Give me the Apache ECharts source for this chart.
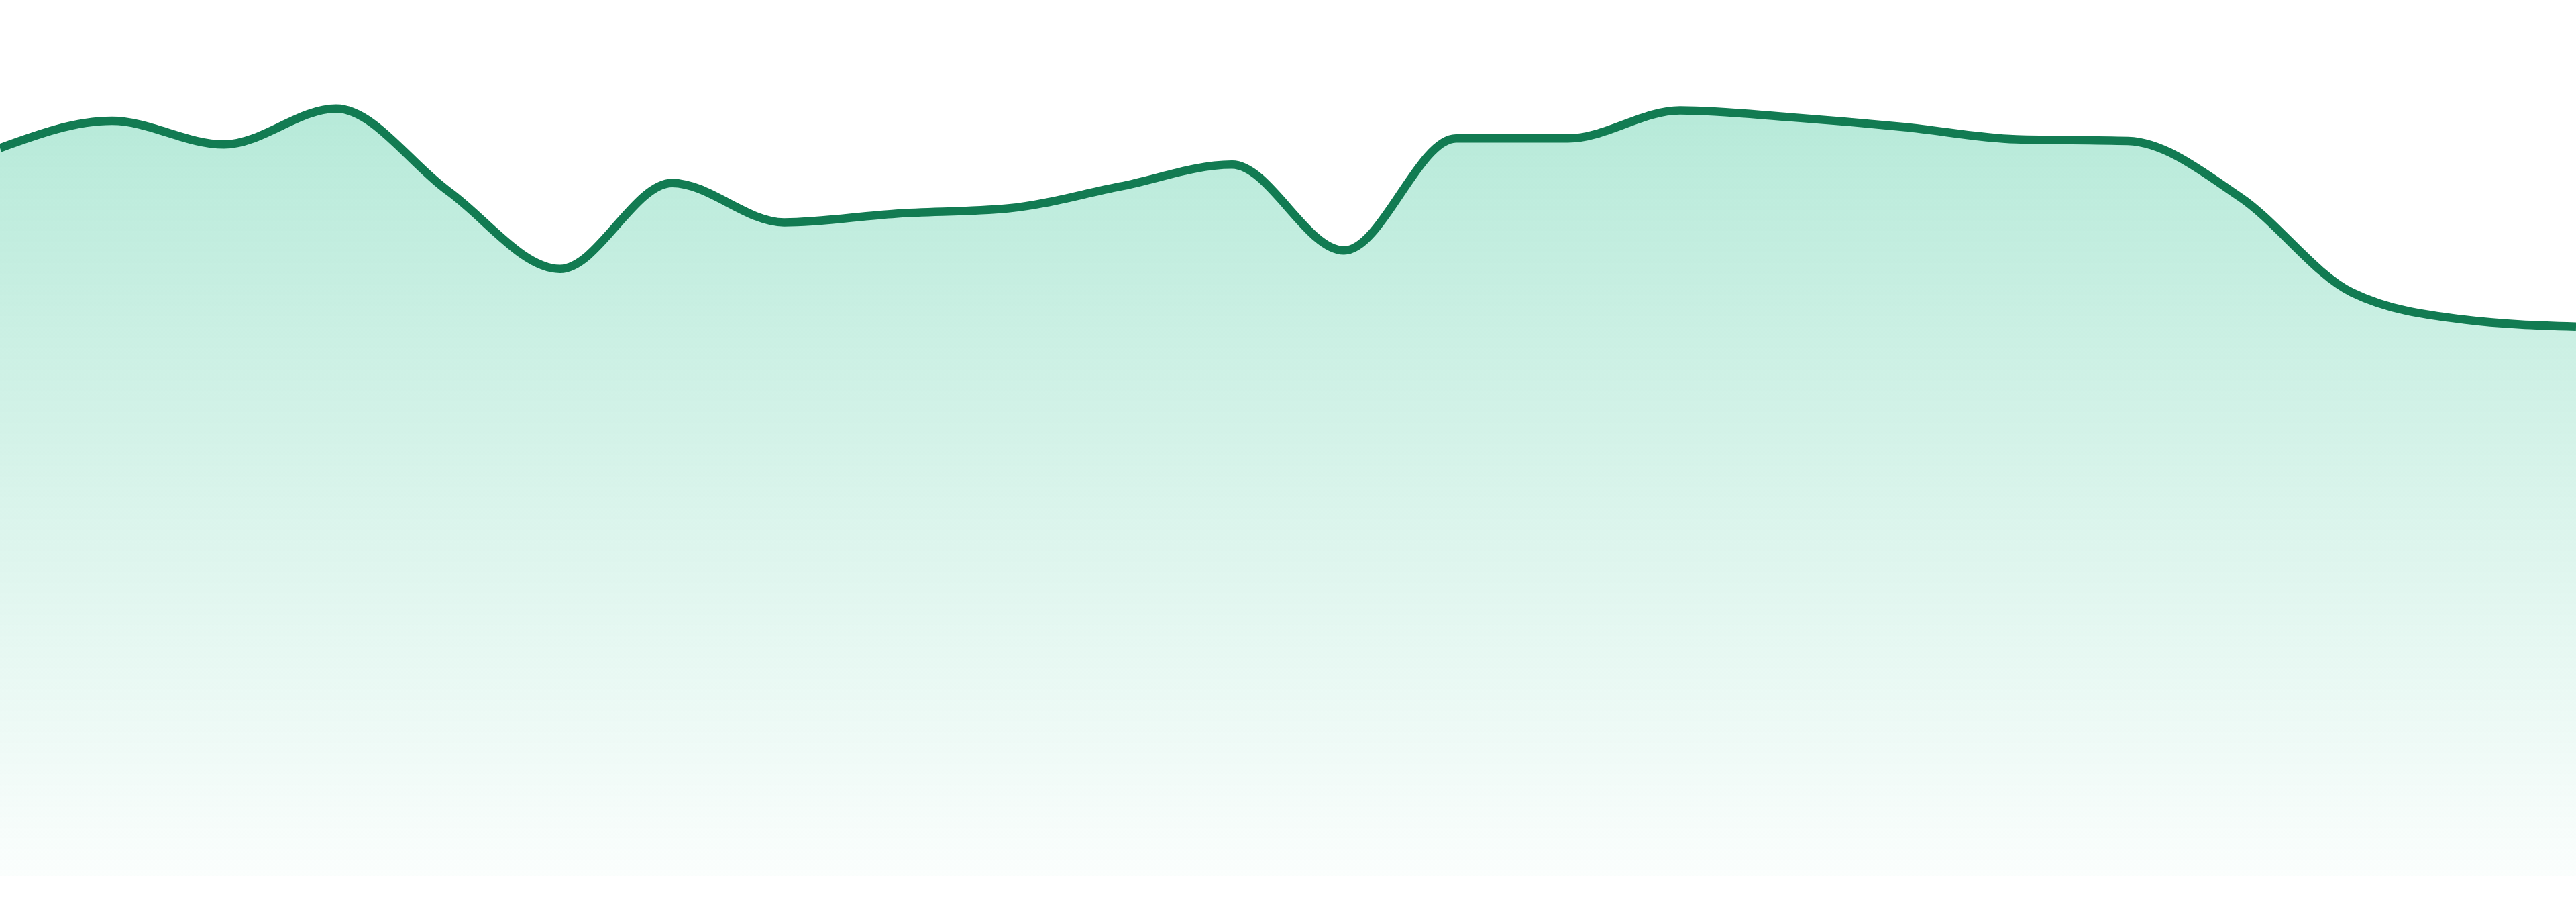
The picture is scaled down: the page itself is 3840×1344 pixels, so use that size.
<!DOCTYPE html>
<html>
<head>
<meta charset="utf-8">
<title>Area</title>
<script src="https://cdn.jsdelivr.net/npm/echarts@6/dist/echarts.min.js"></script>
<style>
    html, body { margin: 0; padding: 0; background: #fff; }
    #chart { width: 3840px; height: 1344px; }
</style>
</head>
<body>
<div id="chart"></div>
<script>
// 24 points, no labels shown on the picture
let days = ['1', '2', '3', '4', '5', '6', '7', '8', '9', '10', '11', '12',
            '13', '14', '15', '16', '17', '18', '19', '20', '21', '22', '23', '24'];
let values = [83.1, 86.2, 83.5, 87.6, 78.2, 69.3, 79.1, 74.6, 75.6, 76.2, 78.7, 81.2,
              71.4, 84.2, 84.2, 87.4, 86.6, 85.5, 84.1, 83.9, 77.5, 66.6, 63.5, 62.7];

// monotone-x tangents (Fritsch–Carlson), same as d3.curveMonotoneX
function sign(x){ return x < 0 ? -1 : 1; }
function tangents(pts){
    let n = pts.length, t = new Array(n).fill(0);
    for(let i = 1; i < n - 1; i++){
        let h0 = pts[i][0] - pts[i - 1][0],
            h1 = pts[i + 1][0] - pts[i][0],
            s0 = (pts[i][1] - pts[i - 1][1]) / h0,
            s1 = (pts[i + 1][1] - pts[i][1]) / h1,
            p = (s0 * h1 + s1 * h0) / (h0 + h1);
        t[i] = (sign(s0) + sign(s1)) * Math.min(Math.abs(s0), Math.abs(s1), 0.5 * Math.abs(p)) || 0;
    }
    let h = pts[1][0] - pts[0][0];
    t[0] = (3 * (pts[1][1] - pts[0][1]) / h - t[1]) / 2;
    h = pts[n - 1][0] - pts[n - 2][0];
    t[n - 1] = (3 * (pts[n - 1][1] - pts[n - 2][1]) / h - t[n - 2]) / 2;
    return t;
}
function curvePath(pts){
    let t = tangents(pts),
        d = 'M' + pts[0][0] + ',' + pts[0][1];
    for(let i = 1; i < pts.length; i++){
        let p0 = pts[i - 1], p1 = pts[i],
            dx = (p1[0] - p0[0]) / 3;
        d += 'C' + (p0[0] + dx) + ',' + (p0[1] + dx * t[i - 1]) + ','
               + (p1[0] - dx) + ',' + (p1[1] - dx * t[i]) + ','
               + p1[0] + ',' + p1[1];
    }
    return d;
}

let chart = echarts.init(document.getElementById('chart'));
let option = {
    animation: false,
    grid: {
        top: 0,
        left: 0,
        right: 0,
        bottom: 39
    },
    xAxis: {
        type: 'category',
        boundaryGap: false,
        data: days,
        show: false
    },
    yAxis: {
        type: 'value',
        min: 0,
        max: 100,
        show: false
    },
    series: [
        {
            type: 'custom',
            data: values.map((v, i) => [i, v]),
            encode: { x: 0, y: 1 },
            renderItem: (params, api) => {
                if(params.dataIndex !== 0) return null;
                let pts = values.map((v, i) => api.coord([i, v])),
                    base = api.coord([0, 0])[1],
                    line = curvePath(pts),
                    area = line + 'L' + pts[pts.length - 1][0] + ',' + base
                                + 'L' + pts[0][0] + ',' + base + 'Z';
                return {
                    type: 'group',
                    children: [
                        {
                            type: 'path',
                            shape: { pathData: area },
                            style: {
                                fill: new echarts.graphic.LinearGradient(0, 0, 0, 1, [
                                    { offset: 0, color: 'rgba(16,185,129,0.3)' },
                                    { offset: 1, color: 'rgba(16,185,129,0.02)' }
                                ]),
                                stroke: null
                            }
                        },
                        {
                            type: 'path',
                            shape: { pathData: line },
                            style: {
                                fill: null,
                                stroke: '#127b52',
                                lineWidth: 12.5,
                                lineJoin: 'round'
                            }
                        }
                    ]
                };
            }
        }
    ]
};
chart.setOption(option);
</script>
</body>
</html>
